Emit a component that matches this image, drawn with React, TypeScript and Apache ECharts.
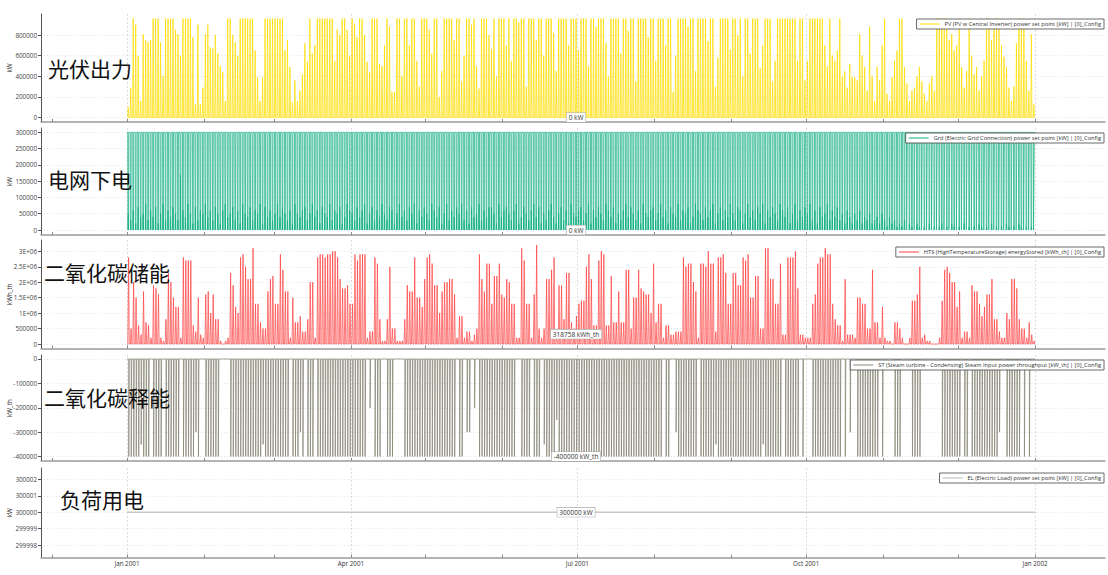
import React, { useEffect, useRef } from 'react';
import * as echarts from 'echarts';

// ---------- axis ticks ----------
const MONTH_TICK_DAYS = [-30, 0, 31, 59, 90, 120, 151, 181, 212, 243, 273, 304, 334, 365];
const QUARTER_DAYS = [0, 90, 181, 273, 365];
const QUARTER_LABELS = ['Jan 2001', 'Apr 2001', 'Jul 2001', 'Oct 2001', 'Jan 2002'];

const PV_TICKS = [0, 200000, 400000, 600000, 800000];
const GRID_TICKS = [0, 50000, 100000, 150000, 200000, 250000, 300000];
const HTS_TICKS = [0, 500000, 1000000, 1500000, 2000000, 2500000, 3000000];
const HTS_TICK_LABELS = ['0', '500000', '1E+06', '1.5E+06', '2E+06', '2.5E+06', '3E+06'];
const ST_TICKS = [-400000, -300000, -200000, -100000, 0];
const EL_TICKS = [299998, 299999, 300000, 300001, 300002];

// ---------- names ----------
const SERIES_NAMES = [
  'PV (PV w Central Inverter) power set point [kW] | [0]_Config',
  'Grd (Electric Grid Connection) power set point [kW] | [0]_Config',
  'HTS (HighTemperatureStorage) energyStored [kWh_th] | [0]_Config',
  'ST (Steam turbine - Condensing) Steam Input power throughput [kW_th] | [0]_Config',
  'EL (Electric Load) power set point [kW] | [0]_Config',
];
const UNIT_NAMES = ['kW', 'kW', 'kWh_th', 'kW_th', 'kW'];
const PANEL_TITLES = ['光伏出力', '电网下电', '二氧化碳储能', '二氧化碳释能', '负荷用电'];

// ---------- cursor readout ----------
const CURSOR_DAY = 180.5;
const CURSOR_VALUES = [0, 0, 318758, -400000, 300000];
const CURSOR_TEXT = ['0 kW', '0 kW', '318758 kWh_th', '-400000 kW_th', '300000 kW'];

// ---------- daily values (day 0 = 1 Jan 2001) ----------
// PV daily peak, unit 10 000 kW
const PV_PEAK = [
  10, 29, 96, 90, 60, 16, 81, 75, 73, 75,
  96, 96, 96, 73, 40, 96, 96, 96, 96, 85,
  81, 60, 96, 96, 96, 96, 78, 13, 90, 13,
  29, 81, 90, 68, 67, 80, 62, 50, 44, 16,
  96, 96, 80, 73, 60, 96, 96, 96, 96, 96,
  96, 65, 39, 16, 39, 96, 96, 96, 96, 96,
  96, 96, 96, 65, 75, 49, 15, 36, 16, 26,
  42, 72, 54, 96, 62, 70, 96, 96, 96, 96,
  96, 96, 96, 55, 86, 80, 96, 96, 85, 60,
  96, 91, 78, 96, 96, 80, 54, 44, 96, 96,
  96, 52, 50, 70, 96, 88, 25, 25, 96, 96,
  40, 96, 96, 70, 96, 96, 55, 30, 96, 96,
  96, 85, 62, 96, 96, 20, 45, 96, 96, 96,
  96, 75, 96, 96, 35, 60, 96, 96, 90, 96,
  50, 28, 96, 96, 96, 80, 66, 96, 40, 96,
  96, 96, 70, 96, 55, 96, 96, 92, 96, 96,
  30, 96, 96, 96, 75, 96, 96, 60, 96, 96,
  96, 82, 45, 96, 96, 96, 96, 70, 96, 96,
  96, 65, 96, 96, 96, 50, 96, 96, 88, 96,
  96, 96, 72, 40, 96, 96, 96, 96, 62, 96,
  96, 84, 96, 96, 35, 96, 96, 96, 96, 78,
  96, 96, 55, 96, 96, 96, 70, 96, 96, 25,
  60, 96, 96, 96, 96, 88, 96, 96, 45, 96,
  96, 96, 96, 74, 96, 96, 30, 58, 96, 96,
  96, 96, 66, 96, 96, 80, 96, 40, 96, 96,
  62, 96, 96, 96, 48, 70, 96, 96, 96, 35,
  55, 96, 96, 96, 96, 96, 96, 96, 96, 55,
  96, 96, 36, 55, 96, 96, 96, 96, 96, 96,
  70, 50, 96, 60, 55, 65, 96, 40, 45, 29,
  52, 39, 39, 36, 81, 60, 49, 26, 88, 40,
  16, 49, 36, 70, 96, 23, 16, 39, 55, 65,
  96, 96, 49, 33, 16, 26, 29, 40, 49, 35,
  23, 16, 33, 40, 26, 96, 96, 96, 96, 96,
  75, 81, 65, 70, 96, 49, 29, 45, 96, 60,
  42, 49, 26, 40, 55, 96, 96, 75, 90, 96,
  96, 70, 59, 49, 29, 16, 30, 72, 96, 96,
  96, 55, 26, 81, 13,
];

// Grid: midday dip value, unit 10 000 kW (night level is 300 000 kW)
const GRID_DIP = [
  5, 3, 6, 2, 7, 4, 5, 8, 3, 6,
  4, 7, 2, 5, 8, 3, 6, 4, 7, 5,
  3, 17, 6, 4, 8, 5, 2, 7, 3, 6,
  5, 8, 4, 6, 3, 7, 5, 2, 6, 8,
  4, 5, 7, 3, 6, 2, 8, 5, 4, 7,
  3, 6, 5, 8, 2, 7, 4, 6, 3, 5,
  8, 4, 7, 5, 3, 6, 2, 8, 5, 4,
  6, 7, 3, 5, 8, 4, 6, 2, 7, 5,
  4, 8, 3, 6, 5, 7, 2, 4, 8, 6,
  5, 3, 7, 4, 6, 8, 2, 5, 7, 3,
  6, 4, 8, 5, 3, 7, 6, 2, 5, 8,
  4, 6, 3, 7, 5, 8, 2, 6, 4, 7,
  5, 3, 8, 6, 4, 7, 2, 5, 8, 3,
  6, 4, 7, 5, 8, 3, 6, 2, 7, 4,
  5, 8, 3, 6, 4, 7, 7, 5, 2, 8,
  4, 6, 7, 5, 3, 6, 8, 2, 4, 7,
  5, 3, 6, 8, 4, 7, 2, 5, 3, 6,
  8, 4, 2, 5, 7, 3, 6, 2, 8, 5,
  4, 6, 7, 3, 5, 8, 2, 6, 4, 7,
  5, 3, 8, 6, 4, 7, 2, 5, 3, 6,
  8, 4, 7, 5, 3, 6, 2, 8, 5, 4,
  6, 7, 3, 5, 8, 4, 6, 2, 7, 5,
  4, 8, 3, 6, 5, 7, 2, 4, 8, 6,
  5, 3, 7, 4, 6, 8, 2, 5, 7, 3,
  6, 4, 8, 5, 3, 7, 6, 2, 5, 8,
  4, 6, 3, 7, 5, 8, 2, 6, 4, 7,
  5, 3, 8, 6, 4, 7, 2, 5, 8, 3,
  6, 4, 7, 5, 8, 3, 6, 2, 7, 4,
  5, 8, 3, 6, 4, 7, 3, 5, 2, 6,
  4, 2, 5, 3, 6, 2, 4, 3, 5, 2,
  3, 4, 2, 5, 3, 1, 4, 2, 3, 1,
  2, 1, 3, 0, 2, 1, 0, 2, 1, 0,
  1, 0, 2, 0, 1, 0, 1, 2, 0, 1,
  0, 2, 1, 0, 1, 0, 2, 0, 1, 0,
  1, 0, 2, 1, 0, 1, 0, 2, 0, 1,
  0, 1, 0, 2, 1, 0, 1, 0, 2, 1,
  0, 1, 0, 1, 0,
];

// HTS daily peak energy stored, unit 100 000 kWh_th
const HTS_PEAK = [
  28, 5, 20, 15, 6, 3, 17, 7, 6, 2,
  19, 18, 16, 2, 1, 8, 23, 20, 15, 12,
  12, 2, 28, 27, 27, 27, 6, 4, 15, 3,
  2, 16, 17, 10, 16, 8, 8, 1, 0, 1,
  2, 23, 19, 12, 10, 28, 29, 25, 21, 21,
  31, 13, 13, 7, 5, 5, 17, 21, 22, 13,
  13, 29, 24, 17, 17, 2, 15, 7, 7, 9,
  4, 4, 8, 20, 20, 2, 28, 29, 29, 28,
  29, 29, 30, 30, 28, 21, 18, 18, 19, 13,
  13, 29, 27, 29, 29, 29, 2, 4, 4, 28,
  26, 8, 1, 1, 8, 25, 5, 5, 1, 1,
  1, 8, 19, 17, 17, 28, 15, 15, 12, 21,
  28, 29, 26, 19, 19, 10, 17, 20, 20, 21,
  21, 16, 2, 9, 9, 2, 4, 4, 1, 3,
  5, 29, 21, 17, 26, 26, 13, 22, 22, 26,
  16, 15, 21, 20, 13, 13, 2, 2, 31, 27,
  13, 13, 2, 16, 32, 5, 2, 5, 21, 21,
  24, 28, 4, 19, 19, 8, 23, 23, 7, 5,
  9, 13, 14, 14, 25, 29, 21, 6, 6, 27,
  30, 29, 6, 6, 22, 7, 7, 17, 7, 7,
  24, 24, 5, 15, 15, 24, 18, 17, 16, 16,
  10, 26, 7, 13, 13, 2, 6, 6, 3, 3,
  4, 4, 4, 28, 25, 26, 26, 20, 17, 2,
  26, 26, 25, 30, 26, 26, 4, 28, 28, 29,
  23, 13, 13, 23, 23, 19, 19, 28, 27, 29,
  15, 15, 22, 22, 5, 5, 31, 31, 21, 21,
  13, 13, 26, 3, 3, 28, 28, 28, 30, 18,
  3, 3, 2, 2, 2, 13, 16, 26, 28, 28,
  31, 29, 29, 13, 8, 6, 6, 1, 21, 3,
  3, 3, 2, 15, 15, 13, 13, 5, 5, 24,
  7, 7, 2, 12, 2, 1, 1, 0, 7, 7,
  5, 2, 0, 0, 2, 14, 14, 16, 25, 2,
  3, 1, 1, 0, 0, 0, 2, 14, 24, 25,
  23, 20, 20, 12, 17, 2, 4, 4, 2, 19,
  17, 17, 13, 9, 12, 16, 16, 21, 8, 8,
  4, 2, 2, 10, 8, 21, 21, 18, 8, 5,
  5, 2, 7, 3, 1,
];

// ST daily steam input (discharge), unit -10 000 kW_th
const ST_DRAW = [
  40, 40, 40, 40, 40, 35, 40, 40, 40, 0,
  40, 40, 40, 40, 0, 40, 40, 40, 40, 40,
  40, 0, 40, 40, 40, 40, 40, 30, 40, 0,
  0, 40, 40, 40, 40, 40, 40, 0, 0, 0,
  0, 40, 40, 40, 40, 40, 40, 40, 40, 40,
  40, 40, 40, 40, 35, 40, 40, 40, 40, 40,
  40, 40, 40, 40, 40, 0, 40, 40, 40, 30,
  40, 0, 40, 40, 40, 0, 40, 40, 40, 40,
  40, 40, 40, 40, 40, 40, 40, 40, 40, 40,
  40, 40, 40, 40, 40, 40, 0, 20, 0, 40,
  40, 40, 0, 0, 40, 40, 40, 0, 0, 0,
  0, 40, 40, 40, 40, 40, 40, 40, 40, 40,
  40, 40, 40, 40, 40, 40, 40, 40, 40, 40,
  40, 40, 0, 40, 40, 0, 30, 30, 0, 20,
  0, 40, 40, 40, 40, 40, 40, 40, 40, 40,
  40, 40, 40, 40, 40, 40, 0, 0, 40, 40,
  40, 40, 0, 40, 40, 40, 0, 35, 40, 40,
  40, 40, 25, 40, 40, 40, 40, 40, 40, 40,
  40, 40, 40, 40, 40, 40, 40, 40, 40, 40,
  40, 40, 40, 40, 40, 40, 40, 40, 40, 40,
  40, 40, 40, 40, 40, 40, 40, 40, 40, 40,
  40, 40, 40, 40, 40, 0, 40, 40, 0, 0,
  30, 40, 40, 40, 40, 40, 40, 40, 40, 0,
  40, 40, 40, 40, 40, 40, 35, 40, 40, 40,
  40, 40, 40, 40, 40, 40, 40, 40, 40, 40,
  40, 40, 40, 40, 40, 35, 40, 40, 40, 40,
  40, 40, 40, 0, 40, 40, 40, 40, 40, 40,
  0, 40, 0, 0, 0, 40, 40, 40, 40, 40,
  40, 40, 40, 40, 40, 40, 40, 0, 40, 0,
  30, 0, 0, 40, 40, 40, 40, 40, 40, 40,
  40, 40, 0, 40, 0, 0, 0, 0, 40, 40,
  40, 0, 0, 0, 0, 40, 40, 40, 40, 0,
  0, 0, 0, 0, 0, 0, 0, 40, 40, 40,
  40, 40, 40, 40, 40, 0, 40, 40, 0, 40,
  40, 40, 40, 40, 40, 40, 40, 40, 40, 40,
  30, 0, 0, 40, 40, 40, 40, 40, 40, 0,
  40, 0, 40, 0, 0,
];

const EL_LEVEL = 300000;
const YEAR_DAYS = 365;

// ---------- styling (not data) ----------
const COLORS = ['rgba(255,222,0,0.75)', 'rgba(22,176,132,0.72)', 'rgba(255,64,64,0.7)', 'rgba(140,137,122,0.8)', '#c9c9c2'];
const LEGEND_COLORS = ['#FFDE00', '#16B084', '#FF4040', '#8C897A', '#b8b8b0'];
const GRIDS = [
  { top: 14, height: 108, min: -43000, max: 1004000 },
  { top: 128, height: 107, min: -15350, max: 313200 },
  { top: 240, height: 108.5, min: -145600, max: 3365700 },
  { top: 355, height: 106, min: -418400, max: 16380 },
  { top: 468, height: 89.5, min: 299997.24, max: 300002.69 },
];
const Y_TICKS = [PV_TICKS, GRID_TICKS, HTS_TICKS, ST_TICKS, EL_TICKS];
const LEGEND_TOPS = [19, 133, 247, 360, 473];
const TITLE_POS = [
  { x: 48, y: 68 },
  { x: 48, y: 179 },
  { x: 44, y: 272 },
  { x: 44, y: 397 },
  { x: 60, y: 499 },
];
const FONT = '"Open Sans", "Noto Sans", sans-serif';

function buildData() {
  const pv: number[][] = [];
  PV_PEAK.forEach((p, d) => {
    pv.push([d + 0.27, 0], [d + 0.5, p * 10000], [d + 0.73, 0]);
  });
  const grid: number[][] = [[0, 300000]];
  GRID_DIP.forEach((g, d) => {
    grid.push([d + 0.3, 300000], [d + 0.38, 0], [d + 0.5, g * 10000], [d + 0.62, 0], [d + 0.7, 300000]);
  });
  grid.push([YEAR_DAYS, 300000]);
  const hts: number[][] = [[0, 0]];
  HTS_PEAK.forEach((h, d) => {
    hts.push([d + 0.35, 0], [d + 0.66, h * 100000], [d + 0.92, 0]);
  });
  const st: number[][] = [[0, 0]];
  ST_DRAW.forEach((s, d) => {
    if (s > 0) {
      st.push([d + 0.7, 0], [d + 0.72, -s * 10000], [d + 0.9, -s * 10000], [d + 0.92, 0]);
    }
  });
  st.push([YEAR_DAYS, 0]);
  const el: number[][] = [[0, EL_LEVEL], [YEAR_DAYS, EL_LEVEL]];
  return [pv, grid, hts, st, el];
}

function buildOption() {
  const datas = buildData();
  const xMin = -34.56;
  const xMax = 393.1;

  const grid = GRIDS.map((g) => ({
    left: 41,
    right: 3,
    top: g.top,
    height: g.height,
    containLabel: false,
    outerBoundsMode: 'none',
  }));

  const xAxis: any[] = [];
  GRIDS.forEach((g, i) => {
    // main axis: monthly ticks, quarterly labels
    xAxis.push({
      type: 'value',
      gridIndex: i,
      min: xMin,
      max: xMax,
      position: 'bottom',
      axisLine: { show: true, onZero: false, lineStyle: { color: '#9a9a9a', width: 1.5 } },
      axisTick: { show: true, inside: true, length: 3, customValues: MONTH_TICK_DAYS, lineStyle: { color: '#888' } },
      axisLabel: {
        show: i === 4,
        customValues: QUARTER_DAYS,
        formatter: (v: number) => {
          const k = QUARTER_DAYS.indexOf(Math.round(v));
          return k >= 0 ? QUARTER_LABELS[k] : '';
        },
        fontSize: 6.3,
        color: '#333',
        fontFamily: FONT,
        margin: 3,
      },
      splitLine: { show: false },
    });
  });
  GRIDS.forEach((g, i) => {
    // helper axis: quarterly grid lines only
    xAxis.push({
      type: 'value',
      gridIndex: i,
      min: xMin,
      max: xMax,
      position: 'bottom',
      axisLine: { show: false, onZero: false },
      axisTick: { show: false, customValues: QUARTER_DAYS },
      axisLabel: { show: false, customValues: QUARTER_DAYS },
      splitLine: { show: true, lineStyle: { color: '#dcdcdc', type: [2, 2], width: 1 } },
    });
  });

  const yAxis = GRIDS.map((g, i) => ({
    type: 'value',
    gridIndex: i,
    min: g.min,
    max: g.max,
    position: 'left',
    name: UNIT_NAMES[i],
    nameLocation: 'middle',
    nameGap: 29,
    nameMoveOverlap: false,
    nameTextStyle: { fontSize: 6.3, color: '#333', fontFamily: FONT },
    axisLine: { show: true, onZero: false, lineStyle: { color: '#555', width: 1 } },
    axisTick: { show: true, length: 3, customValues: Y_TICKS[i], lineStyle: { color: '#555' } },
    axisLabel: {
      customValues: Y_TICKS[i],
      fontSize: 6.3,
      color: '#444',
      fontFamily: FONT,
      margin: 4,
      formatter: (v: number) => {
        if (i === 2) {
          const k = HTS_TICKS.indexOf(Math.round(v));
          return k >= 0 ? HTS_TICK_LABELS[k] : '';
        }
        return String(Math.round(v));
      },
    },
    splitLine: { show: true, lineStyle: { color: '#e3e3e3', type: [1, 2], width: 1 } },
  }));

  const series: any[] = [];
  datas.forEach((data, i) => {
    series.push({
      name: SERIES_NAMES[i],
      type: 'line',
      xAxisIndex: i,
      yAxisIndex: i,
      data,
      showSymbol: false,
      symbol: 'none',
      z: 2,
      lineStyle: { color: COLORS[i], width: i === 4 ? 1.5 : 1 },
      itemStyle: { color: LEGEND_COLORS[i] },
      markPoint: {
        symbol: 'circle',
        symbolSize: 1,
        itemStyle: { color: 'rgba(0,0,0,0)' },
        label: {
          show: true,
          position: 'inside',
          formatter: '{b}',
          fontSize: 6.5,
          color: '#333',
          fontFamily: FONT,
          backgroundColor: '#fff',
          borderColor: '#aaa',
          borderWidth: 0.6,
          padding: [1, 2, 1, 2],
        },
        data: [{ name: CURSOR_TEXT[i], coord: [CURSOR_DAY, CURSOR_VALUES[i]] }],
      },
    });
  });

  const legend = SERIES_NAMES.map((n, i) => ({
    data: [n],
    right: 4,
    top: LEGEND_TOPS[i],
    orient: 'horizontal',
    icon: 'rect',
    itemWidth: 20,
    itemHeight: 1,
    itemGap: 4,
    padding: [2, 3, 2, 3],
    backgroundColor: '#fff',
    borderColor: '#444',
    borderWidth: 0.8,
    borderRadius: 0,
    textStyle: { fontSize: 5.7, color: '#333', fontFamily: FONT },
    selectedMode: false,
  }));

  const graphic = PANEL_TITLES.map((t, i) => ({
    type: 'text',
    x: TITLE_POS[i].x,
    y: TITLE_POS[i].y,
    z: 100,
    style: {
      text: t,
      fill: '#111',
      fontSize: 21,
      fontFamily: '"Noto Sans CJK SC", sans-serif',
      verticalAlign: 'middle',
      align: 'left',
    },
  }));

  return {
    animation: false,
    backgroundColor: '#fff',
    grid,
    xAxis,
    yAxis,
    legend,
    series,
    graphic,
  };
}

export default function App() {
  const ref = useRef<HTMLDivElement>(null);
  useEffect(() => {
    if (!ref.current) return;
    const chart = echarts.init(ref.current, undefined, { renderer: 'svg' });
    chart.setOption(buildOption() as any);
    return () => chart.dispose();
  }, []);
  return (
    <div
      ref={ref}
      style={{ position: 'fixed', left: 0, top: 0, width: 1108, height: 575, background: '#fff' }}
    />
  );
}
